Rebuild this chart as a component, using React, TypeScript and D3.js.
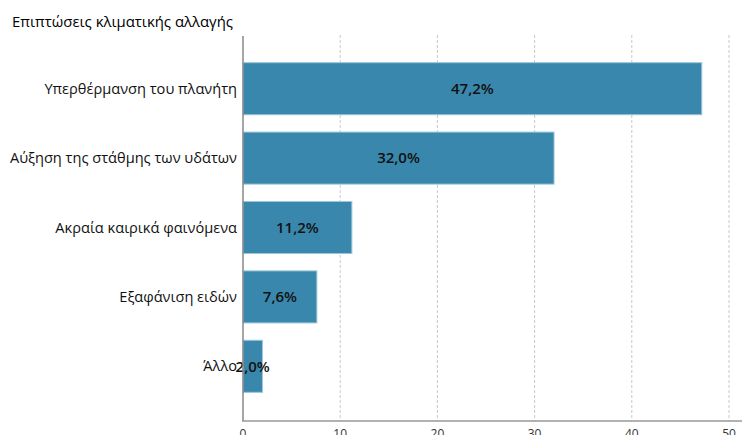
import React from "react";
import * as d3 from "d3";

const categories = [
  "Υπερθέρμανση του πλανήτη",
  "Αύξηση της στάθμης των υδάτων",
  "Ακραία καιρικά φαινόμενα",
  "Εξαφάνιση ειδών",
  "Άλλο",
];
const values = [47.2, 32.0, 11.2, 7.6, 2.0];
const xTicks = [0, 10, 20, 30, 40, 50];
const title = "Επιπτώσεις κλιματικής αλλαγής";

const fmt = (v: number) => v.toFixed(1).replace(".", ",") + "%";

export default function App() {
  const W = 742, H = 435;
  const x = d3.scaleLinear().domain([0, 50]).range([243, 729]);
  const y = d3.scaleBand<string>().domain(categories).range([54, 401]).paddingInner(0.25).paddingOuter(0.125);
  const font = "'Open Sans', 'DejaVu Sans', sans-serif";
  return (
    <svg width={W} height={H} style={{ position: "absolute", left: 0, top: 0, background: "#fff" }}>
      <text x={12} y={27} fontFamily={font} fontSize={15} fontWeight={500} fill="#000" textLength={221} lengthAdjust="spacingAndGlyphs">{title}</text>
      {xTicks.slice(1).map((t) => (
        <line key={t} x1={x(t)} x2={x(t)} y1={35} y2={421} stroke="#c8c8c8" strokeDasharray="3,2" strokeWidth={1} />
      ))}
      {categories.map((c, i) => (
        <g key={c}>
          <rect x={x(0)} y={y(c)!} width={x(values[i]) - x(0)} height={y.bandwidth()} fill="#3a87ad" stroke="#9cc6da" strokeWidth={1} />
          <text x={x(0) - 6} y={y(c)! + y.bandwidth() / 2} dy="0.35em" textAnchor="end" fontFamily={font} fontSize={14.6} fill="#111">{c}</text>
          <text x={(x(0) + x(values[i])) / 2} y={y(c)! + y.bandwidth() / 2} dy="0.35em" textAnchor="middle" fontFamily={font} fontSize={15} fontWeight={600} fill="#111">{fmt(values[i])}</text>
        </g>
      ))}
      <line x1={243} x2={243} y1={36} y2={421} stroke="#888" strokeWidth={1.5} />
      <line x1={242} x2={742} y1={421} y2={421} stroke="#999" strokeWidth={1.5} />
      {xTicks.map((t) => (
        <text key={t} x={x(t)} y={438} textAnchor="middle" fontFamily={font} fontSize={12} fill="#333">{t}</text>
      ))}
    </svg>
  );
}
